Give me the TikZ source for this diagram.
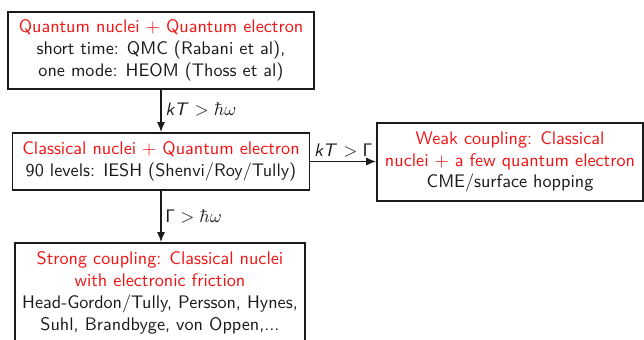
\documentclass[tikz,border=0pt]{standalone}
\usetikzlibrary{arrows.meta}
\definecolor{ink}{HTML}{1A1A1A}
\definecolor{headred}{HTML}{F01414}

\begin{document}
\begin{tikzpicture}[
  x=0.55pt, y=-0.55pt, font=\sffamily,
  regime/.style={draw=ink, line width=1pt, align=center, inner sep=0pt, text=ink},
  cond/.style={text=ink, inner sep=2pt},
  link/.style={draw=ink, line width=0.8pt, -{Latex[length=5.5pt,width=4.5pt]}}
]
\useasboundingbox (0,0) rectangle (644,340);
\clip (0,0) rectangle (644,340);

\node[regime, minimum width=168.3pt, minimum height=42.4pt] (qq) at (161,50.5)
  {\textcolor{headred}{Quantum nuclei + Quantum electron}\\
   short time: QMC (Rabani et al),\\
   one mode: HEOM (Thoss et al)};
\node[regime, minimum width=163.4pt, minimum height=31.4pt] (cq) at (161,161.5)
  {\textcolor{headred}{Classical nuclei + Quantum electron}\\
   90 levels: IESH (Shenvi/Roy/Tully)};
\node[regime, minimum width=146.3pt, minimum height=42.9pt] (weak) at (510,162)
  {\textcolor{headred}{Weak coupling: Classical}\\
   \textcolor{headred}{nuclei + a few quantum electron}\\
   CME/surface hopping};
\node[regime, minimum width=159.5pt, minimum height=55pt] (strong) at (160,293)
  {\textcolor{headred}{Strong coupling: Classical nuclei}\\
   \textcolor{headred}{with electronic friction}\\
   Head-Gordon/Tully, Persson, Hynes,\\
   Suhl, Brandbyge, von Oppen,...};

\draw[link] (qq.south) -- (qq.south |- cq.north)
  node[cond, midway, right, yshift=1pt] {\textit{kT} $>\hbar\omega$};
\draw[link] (cq.east) -- (weak.west |- cq.east)
  node[cond, midway, above] {\textit{kT} $>\mathsf{\Gamma}$};
\draw[link] (cq.south) -- (cq.south |- strong.north)
  node[cond, midway, right] {$\mathsf{\Gamma}>\hbar\omega$};
\end{tikzpicture}
\end{document}
